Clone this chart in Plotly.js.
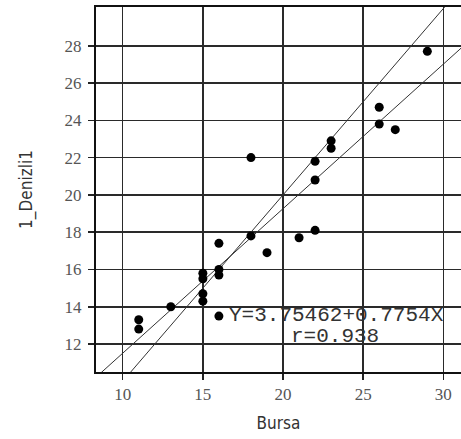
<!DOCTYPE html>
<html>
<head>
<meta charset="utf-8">
<script src="https://cdn.plot.ly/plotly-3.0.1.min.js"></script>
<style>
html,body{margin:0;padding:0;background:#fff;}
#chart{width:461px;height:439px;}
</style>
</head>
<body>
<div id="chart"></div>
<script>
// Data
var bursa   = [11, 11, 13, 15, 15, 15, 15, 16, 16, 16, 16, 18, 18, 19, 21, 22, 22, 22, 23, 23, 26, 26, 27, 29];
var denizli = [13.3, 12.8, 14.0, 15.8, 15.5, 14.7, 14.3, 17.4, 16.0, 15.7, 13.5, 17.8, 22.0, 16.9, 17.7, 18.1, 21.8, 20.8, 22.9, 22.5, 24.7, 23.8, 23.5, 27.7];
var regCoef = [3.75462, 0.7754];   // intercept, slope
var rValue = 0.938;
var xTicks = [10, 15, 20, 25, 30];
var yTicks = [12, 14, 16, 18, 20, 22, 24, 26, 28];
var xRange = [8.334, 31.1];
var yRange = [10.5, 30.08];

var regX = [xRange[0], xRange[1]];
var regY = regX.map(function(v){ return regCoef[0] + regCoef[1]*v; });
var idX = [Math.max(xRange[0], yRange[0]), Math.min(xRange[1], yRange[1])];

var traces = [
  {x: regX, y: regY, mode: 'lines', line: {color: '#333', width: 1}, hoverinfo: 'skip'},
  {x: idX, y: idX, mode: 'lines', line: {color: '#333', width: 1}, hoverinfo: 'skip'},
  {x: bursa, y: denizli, mode: 'markers', marker: {color: '#000', size: 9}}
];

var tickFont = {family: '"Liberation Serif", "Times New Roman", "DejaVu Serif", serif', size: 17, color: '#555'};
var titleFont = {family: '"Liberation Sans Narrow", "DejaVu Sans Condensed", "Liberation Sans", sans-serif', size: 17, color: '#333'};

var layout = {
  width: 461, height: 439,
  margin: {l: 96, r: 0, t: 7, b: 67, pad: 0},
  paper_bgcolor: '#fff', plot_bgcolor: '#fff',
  showlegend: false,
  xaxis: {
    range: xRange, tickvals: xTicks, ticktext: xTicks.map(String),
    ticks: 'outside', ticklen: 6, tickwidth: 1.5, tickcolor: '#222',
    showgrid: true, gridcolor: '#2a2a2a', gridwidth: 1.5,
    zeroline: false, showline: true, linecolor: '#111', linewidth: 2, mirror: true,
    tickfont: tickFont,
    title: {text: 'Bursa', font: titleFont, standoff: 14}
  },
  yaxis: {
    range: yRange, tickvals: yTicks, ticktext: yTicks.map(String),
    ticks: 'outside', ticklen: 6, tickwidth: 1.5, tickcolor: '#222',
    showgrid: true, gridcolor: '#2a2a2a', gridwidth: 1.5,
    zeroline: false, showline: true, linecolor: '#111', linewidth: 2,
    tickfont: tickFont, ticklabelstandoff: 3,
    title: {text: '1_Denizli1', font: titleFont, standoff: 28}
  },
  annotations: [
    {xref: 'paper', yref: 'paper', x: 0.659, y: 0.155, xanchor: 'center', yanchor: 'middle',
     text: 'Y=' + regCoef[0] + '+' + regCoef[1] + 'X', showarrow: false,
     font: {family: '"Liberation Mono", monospace', size: 21, color: '#333'}},
    {xref: 'paper', yref: 'paper', x: 0.656, y: 0.0967, xanchor: 'center', yanchor: 'middle',
     text: 'r=' + rValue, showarrow: false,
     font: {family: '"Liberation Mono", monospace', size: 21, color: '#333'}}
  ]
};

Plotly.newPlot('chart', traces, layout, {displayModeBar: false, staticPlot: true});
</script>
</body>
</html>
